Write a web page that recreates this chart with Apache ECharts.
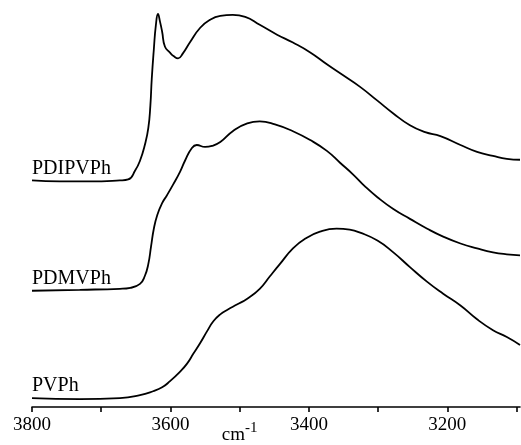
<!DOCTYPE html>
<html>
<head>
<meta charset="utf-8">
<script src="https://cdn.jsdelivr.net/npm/echarts@6/dist/echarts.min.js"></script>
<style>html,body{margin:0;padding:0;background:#fff}#c{width:521px;height:445px}</style>
</head>
<body>
<div id="c"></div>
<script>
// wavenumber (cm-1), absorbance (arbitrary, offset) pairs
const pdipvphWn = [3800,3760,3716,3673,3661,3651,3644,3637,3632,3629,3627,3624,3621,3618,3615,3612,3608,3601,3595,3589,3582,3572,3557,3543,3528,3510,3492,3471,3446,3423,3398,3374,3351,3326,3301,3278,3254,3232,3210,3181,3157,3134,3114,3095];
const pdipvphAbs = [2.30,2.29,2.29,2.30,2.31,2.40,2.50,2.66,2.83,3.06,3.33,3.63,3.88,3.99,3.91,3.81,3.66,3.60,3.56,3.54,3.59,3.70,3.85,3.93,3.97,3.98,3.96,3.88,3.78,3.70,3.60,3.48,3.37,3.25,3.11,2.98,2.86,2.79,2.75,2.66,2.59,2.55,2.52,2.51];

const pdmvphWn = [3800,3731,3673,3658,3644,3637,3632,3628,3624,3619,3612,3605,3596,3586,3579,3569,3562,3550,3540,3528,3510,3489,3471,3449,3423,3398,3374,3355,3336,3319,3301,3278,3254,3229,3206,3181,3157,3134,3114,3095];
const pdmvphAbs = [1.18,1.19,1.20,1.21,1.25,1.33,1.45,1.63,1.81,1.95,2.07,2.15,2.26,2.39,2.50,2.63,2.66,2.64,2.65,2.69,2.80,2.88,2.90,2.87,2.80,2.71,2.60,2.48,2.36,2.24,2.13,2.01,1.91,1.81,1.73,1.66,1.61,1.57,1.55,1.54];

const pvphWn = [3800,3731,3673,3644,3625,3612,3601,3586,3576,3567,3557,3547,3538,3528,3517,3504,3489,3471,3456,3442,3423,3405,3384,3360,3341,3326,3301,3278,3254,3229,3206,3181,3157,3134,3114,3095];
const pvphAbs = [0.09,0.08,0.09,0.12,0.16,0.20,0.26,0.36,0.44,0.54,0.65,0.77,0.87,0.94,0.99,1.04,1.10,1.20,1.33,1.45,1.61,1.71,1.78,1.81,1.80,1.77,1.69,1.57,1.42,1.27,1.15,1.03,0.89,0.78,0.71,0.63];

const seriesNames = ['PDIPVPh','PDMVPh','PVPh'];
const tickValues = [3800,3700,3600,3500,3400,3300,3200,3100];
const labelValues = [3800,3600,3500,3400,3200];
const axisUnit = 'cm';
const axisUnitExp = '-1';

const zip = (a,b) => a.map((v,i)=>[v,b[i]]);
const sets = [[pdipvphWn,pdipvphAbs],[pdmvphWn,pdmvphAbs],[pvphWn,pvphAbs]];
const serif = 'Liberation Serif';

const chart = echarts.init(document.getElementById('c'), null, {renderer:'canvas'});
chart.setOption({
  animation:false,
  backgroundColor:'#fff',
  grid:{left:32,right:1,top:13,bottom:32},
  xAxis:{
    type:'value', inverse:true, min:3095, max:3800,
    splitLine:{show:false},
    axisLine:{lineStyle:{color:'#000',width:1.6}},
    axisTick:{customValues:tickValues, length:5, lineStyle:{color:'#000',width:1.6}},
    axisLabel:{
      customValues:labelValues, margin:9, color:'#000',
      fontFamily:serif, fontSize:19,
      formatter:v => v===3500 ? '{u|'+axisUnit+'}{s|'+axisUnitExp+'}' : String(v),
      rich:{
        u:{fontFamily:serif,fontSize:19,color:'#000',padding:[10,0,0,0]},
        s:{fontFamily:serif,fontSize:15,color:'#000',padding:[0,0,4,0]}
      }
    }
  },
  yAxis:{type:'value',min:0,max:4,show:false},
  series: sets.map((s,i)=>({
    type:'line', name:seriesNames[i], data:zip(s[0],s[1]),
    showSymbol:false, smooth:0.5,
    lineStyle:{color:'#000',width:1.8},
    markPoint:{
      symbol:'circle', symbolSize:0, silent:true,
      data:[{coord:[s[0][0], s[1][0]]}],
      label:{show:true, formatter:seriesNames[i], position:[0,0], align:'left', verticalAlign:'bottom',
        offset:[0,-2], color:'#000', fontFamily:serif, fontSize:20}
    }
  }))
});
</script>
</body>
</html>
